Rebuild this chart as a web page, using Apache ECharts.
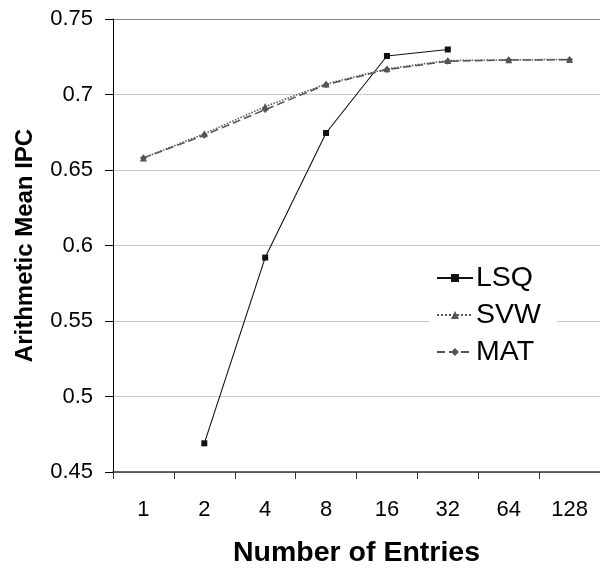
<!DOCTYPE html>
<html>
<head>
<meta charset="utf-8">
<script src="https://cdn.jsdelivr.net/npm/echarts@6/dist/echarts.min.js"></script>
<style>
html,body{margin:0;padding:0;background:#fff;}
#chart{width:600px;height:573px;}
</style>
</head>
<body>
<div id="chart"></div>
<script>
const categories = ['1', '2', '4', '8', '16', '32', '64', '128'];
const lsq = [null, 0.469, 0.592, 0.6745, 0.7255, 0.7298, null, null];
const svw = [0.658, 0.674, 0.692, 0.707, 0.717, 0.7225, 0.723, 0.7232];
const mat = [0.658, 0.673, 0.690, 0.7065, 0.7165, 0.722, 0.7228, 0.723];
const yTicks = { min: 0.45, max: 0.75, step: 0.05 };

const FONT = "'Liberation Sans', Arial, sans-serif";
const chart = echarts.init(document.getElementById('chart'), null, { renderer: 'canvas' });
chart.setOption({
  animation: false,
  backgroundColor: '#fff',
  textStyle: { fontFamily: FONT },
  grid: { left: 113, top: 19, width: 491, height: 459, containLabel: false },
  xAxis: {
    type: 'category',
    data: categories,
    boundaryGap: true,
    name: 'Number of Entries',
    nameLocation: 'middle',
    nameGap: 67,
    nameTextStyle: { fontFamily: FONT, fontSize: 28.5, fontWeight: 'bold', color: '#000' },
    axisLine: { lineStyle: { color: '#333', width: 1.5 } },
    axisTick: { show: true, length: 7, lineStyle: { color: '#333', width: 1 } },
    axisLabel: { fontFamily: FONT, fontSize: 22, color: '#000', margin: 27 },
    splitLine: { show: false }
  },
  yAxis: {
    type: 'value',
    min: yTicks.min,
    max: yTicks.max,
    interval: yTicks.step,
    name: 'Arithmetic Mean IPC',
    nameLocation: 'middle',
    nameGap: 76,
    nameRotate: 90,
    nameTextStyle: { fontFamily: FONT, fontSize: 24, fontWeight: 'bold', color: '#000' },
    axisLine: { show: true, lineStyle: { color: '#000', width: 1 } },
    axisTick: { show: true, length: 8, lineStyle: { color: '#000', width: 1 } },
    axisLabel: {
      fontFamily: FONT, fontSize: 22, color: '#000', margin: 20,
      formatter: v => String(+v.toFixed(2))
    },
    splitLine: {
      show: true,
      lineStyle: { color: ['#c8c8c8', '#c8c8c8', '#c8c8c8', '#c8c8c8', '#c8c8c8', '#c8c8c8', '#888'], width: 1 }
    }
  },
  legend: {
    orient: 'vertical',
    left: 429,
    top: 258,
    padding: [5, 16, 5, 7],
    backgroundColor: '#fff',
    itemWidth: 36,
    itemHeight: 10,
    itemGap: 7,
    textStyle: { fontFamily: FONT, fontSize: 28.5, color: '#000', lineHeight: 30, padding: [0, 0, 0, -2] },
    data: ['LSQ', 'SVW', 'MAT']
  },
  series: [
    {
      name: 'LSQ', type: 'line', data: lsq,
      symbol: 'rect', symbolSize: 6,
      lineStyle: { color: '#111', width: 1.1, type: 'solid' },
      itemStyle: { color: '#111' }
    },
    {
      name: 'SVW', type: 'line', data: svw,
      symbol: 'triangle', symbolSize: 7,
      lineStyle: { color: '#555', width: 1.5, type: 'dotted' },
      itemStyle: { color: '#555' }
    },
    {
      name: 'MAT', type: 'line', data: mat,
      symbol: 'diamond', symbolSize: 7,
      lineStyle: { color: '#555', width: 1.5, type: [8, 4] },
      itemStyle: { color: '#555' }
    }
  ]
});
</script>
</body>
</html>
